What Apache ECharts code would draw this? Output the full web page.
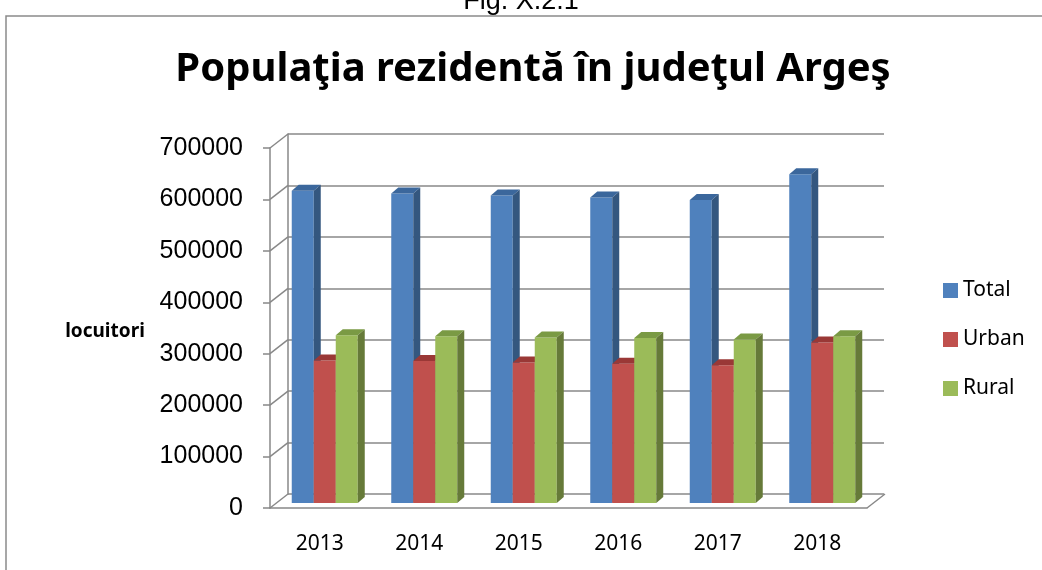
<!DOCTYPE html>
<html>
<head>
<meta charset="utf-8">
<script src="https://cdn.jsdelivr.net/npm/echarts@6/dist/echarts.min.js"></script>
<style>
  html, body { margin: 0; padding: 0; background: #fff; }
  #main { width: 1042px; height: 570px; }
</style>
</head>
<body>
<div id="main"></div>
<script>
// date
var years = ['2013', '2014', '2015', '2016', '2017', '2018'];
var totalVals = [607000, 602000, 598000, 594000, 589000, 639000];
var urbanVals = [277000, 276000, 273000, 271000, 268000, 312000];
var ruralVals = [326000, 324000, 322000, 321000, 318000, 324000];
var yTicks = [0, 100000, 200000, 300000, 400000, 500000, 600000, 700000];

var GRID_LINE = '#888888';
var DEPTH_X = 18, DEPTH_Y = -14;   // back wall offset
var BAR_DX = 7, BAR_DY = -6;       // bar depth
var SHIFT_X = 5, SHIFT_Y = -5;     // bars sit a bit behind the front plane
var BAR_W = 22;

// 3D column: front face, top, right side
function barRender(slot, front, top, side) {
  return function (params, api) {
    var i = api.value(0), v = api.value(1);
    var c = api.coord([i, v]);
    var b = api.coord([i, 0]);
    var x0 = c[0] - BAR_W * 1.5 + slot * BAR_W + SHIFT_X;
    var yt = c[1] + SHIFT_Y, yb = b[1] + SHIFT_Y;
    var w = BAR_W;
    return {
      type: 'group',
      children: [
        { type: 'rect', shape: { x: x0, y: yt, width: w, height: yb - yt }, style: { fill: front } },
        { type: 'polygon', shape: { points: [[x0, yt], [x0 + BAR_DX, yt + BAR_DY], [x0 + w + BAR_DX, yt + BAR_DY], [x0 + w, yt]] }, style: { fill: top } },
        { type: 'polygon', shape: { points: [[x0 + w, yt], [x0 + w + BAR_DX, yt + BAR_DY], [x0 + w + BAR_DX, yb + BAR_DY], [x0 + w, yb]] }, style: { fill: side } }
      ]
    };
  };
}

// slanted lines joining the front axis to the back wall
function depthRender(params, api) {
  var v = api.value(1);
  var p = api.coord([0, v]);
  var half = api.size([1, 0])[0] / 2;
  var x = p[0] - half;
  var kids = [{
    type: 'line',
    shape: { x1: x, y1: p[1], x2: x + DEPTH_X, y2: p[1] + DEPTH_Y },
    style: { stroke: GRID_LINE, lineWidth: 1.5 }
  }];
  if (v === 0) {
    var xr = api.coord([years.length - 1, 0])[0] + half;
    kids.push({
      type: 'line',
      shape: { x1: xr, y1: p[1], x2: xr + DEPTH_X, y2: p[1] + DEPTH_Y },
      style: { stroke: GRID_LINE, lineWidth: 1.5 }
    });
  }
  return { type: 'group', children: kids };
}

function toData(arr) {
  var res = [];
  for (var i = 0; i < arr.length; i++) res.push([i, arr[i]]);
  return res;
}

var chart = echarts.init(document.getElementById('main'));

var option = {
  backgroundColor: '#fff',
  animation: false,
  textStyle: { fontFamily: 'Noto Sans' },
  graphic: [
    { type: 'rect', shape: { x: 6, y: 16, width: 1100, height: 700 }, style: { fill: 'none', stroke: '#8a8a8a', lineWidth: 1.5 }, z: 0 },
    { type: 'text', x: 521, y: 2, style: { text: 'Fig. X.2.1', fontSize: 27, fontFamily: 'Liberation Sans', fill: '#000', align: 'center', verticalAlign: 'middle' } },
    { type: 'text', x: 533, y: 70, style: { text: 'Populaţia rezidentă în judeţul Argeş', fontSize: 40, fontWeight: 'bold', fontFamily: 'Noto Sans', fill: '#000', align: 'center', verticalAlign: 'middle' } },
    { type: 'text', x: 105, y: 332, style: { text: 'locuitori', fontSize: 19, fontWeight: 'bold', fontFamily: 'Noto Sans', fill: '#000', align: 'center', verticalAlign: 'middle' } }
  ],
  legend: {
    orient: 'vertical',
    left: 938,
    top: 275,
    itemWidth: 15,
    itemHeight: 15,
    itemGap: 28,
    icon: 'rect',
    data: ['Total', 'Urban', 'Rural'],
    textStyle: { fontSize: 21, color: '#000', fontFamily: 'Noto Sans' }
  },
  grid: [
    { left: 270, top: 148, right: 175, bottom: 62 },   // front plane
    { left: 288, top: 134, right: 158, bottom: 76 }    // back wall
  ],
  xAxis: [
    {
      type: 'category', gridIndex: 0, data: years,
      axisLine: { lineStyle: { color: GRID_LINE, width: 1.5 } },
      axisTick: { length: 7, lineStyle: { color: GRID_LINE, width: 1.5 } },
      axisLabel: { fontSize: 21, color: '#000', margin: 26, fontFamily: 'Noto Sans' },
      splitLine: { show: false }
    },
    { type: 'category', gridIndex: 1, data: years, show: false }
  ],
  yAxis: [
    {
      type: 'value', gridIndex: 0, min: 0, max: 700000, interval: 100000,
      axisLine: { show: true, lineStyle: { color: GRID_LINE, width: 1.5 } },
      axisTick: { show: true, length: 7, lineStyle: { color: GRID_LINE, width: 1.5 } },
      axisLabel: { fontSize: 25, color: '#000', margin: 27, fontFamily: 'Liberation Sans', formatter: function (v) { return String(v); } },
      splitLine: { show: false }
    },
    {
      type: 'value', gridIndex: 1, min: 0, max: 700000, interval: 100000,
      axisLine: { show: true, lineStyle: { color: GRID_LINE, width: 1.5 } },
      axisTick: { show: false },
      axisLabel: { show: false },
      splitLine: { show: true, lineStyle: { color: GRID_LINE, width: 1.5 } }
    }
  ],
  series: [
    {
      name: 'depth', type: 'custom', xAxisIndex: 0, yAxisIndex: 0,
      silent: true, z: 1,
      renderItem: depthRender,
      data: yTicks.map(function (v) { return [0, v]; })
    },
    {
      name: 'Total', type: 'custom', xAxisIndex: 0, yAxisIndex: 0, z: 3,
      itemStyle: { color: '#4f81bd' },
      renderItem: barRender(0, '#4f81bd', '#3b679c', '#34577f'),
      encode: { x: 0, y: 1 },
      data: toData(totalVals)
    },
    {
      name: 'Urban', type: 'custom', xAxisIndex: 0, yAxisIndex: 0, z: 3,
      itemStyle: { color: '#c0504d' },
      renderItem: barRender(1, '#c0504d', '#9a3836', '#8a3533'),
      encode: { x: 0, y: 1 },
      data: toData(urbanVals)
    },
    {
      name: 'Rural', type: 'custom', xAxisIndex: 0, yAxisIndex: 0, z: 3,
      itemStyle: { color: '#9bbb59' },
      renderItem: barRender(2, '#9bbb59', '#7a9a44', '#667a39'),
      encode: { x: 0, y: 1 },
      data: toData(ruralVals)
    }
  ]
};

chart.setOption(option);
</script>
</body>
</html>
